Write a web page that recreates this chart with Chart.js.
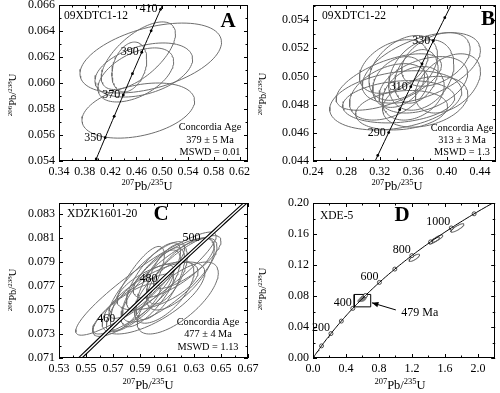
<!DOCTYPE html>
<html><head><meta charset="utf-8">
<script src="https://cdn.jsdelivr.net/npm/chart.js@4/dist/chart.umd.min.js"></script>
<style>
html,body{margin:0;padding:0;background:#fff;}
#wrap{position:relative;width:500px;height:393px;overflow:hidden;background:#fff;}
canvas{position:absolute;}
</style></head><body>
<div id="wrap">
<canvas id="cA" width="265" height="197" style="left:0;top:0"></canvas>
<canvas id="cB" width="250" height="197" style="left:250px;top:0"></canvas>
<canvas id="cC" width="265" height="196" style="left:0;top:197px"></canvas>
<canvas id="cD" width="250" height="196" style="left:250px;top:197px"></canvas>
</div>
<script>
// ---------- data ----------
// Panel A : 09XDTC1-12
const xRangeA = [0.34, 0.633], yRangeA = [0.054, 0.066];
const xTicksA = [0.34, 0.38, 0.42, 0.46, 0.50, 0.54, 0.58, 0.62];
const yTicksA = [0.054, 0.056, 0.058, 0.060, 0.062, 0.064, 0.066];
const ageMarksA = [340, 350, 360, 370, 380, 390, 400, 410];
const ageLabelsA = [350, 370, 390, 410];
// ellipses: [207/235 centre, 206/238 centre, x half-extent, y half-extent, error correlation]
const ellipsesA = [
  [0.4629, 0.05788, 0.0873, 0.00212, 0.35],
  [0.4822, 0.06192, 0.1097, 0.00269, 0.45],
  [0.4630, 0.06210, 0.0575, 0.00260, 0.65],
  [0.4714, 0.06100, 0.0757, 0.00208, 0.40],
  [0.4490, 0.06123, 0.0270, 0.00192, 0.30],
  [0.4590, 0.06062, 0.0587, 0.00208, 0.50]
];

// Panel B : 09XDTC1-22
const xRangeB = [0.24, 0.459], yRangeB = [0.044, 0.05506];
const xTicksB = [0.24, 0.28, 0.32, 0.36, 0.40, 0.44];
const yTicksB = [0.044, 0.046, 0.048, 0.050, 0.052, 0.054];
const ageMarksB = [280, 290, 300, 310, 320, 330, 340];
const ageLabelsB = [290, 310, 330];
const ellipsesB = [
  [0.3696, 0.0506, 0.0707, 0.0025, 0.5],
  [0.3390, 0.0483, 0.0790, 0.0021, 0.3],
  [0.3425, 0.0482, 0.0670, 0.0015, 0.2],
  [0.3480, 0.0506, 0.0410, 0.0023, 0.4],
  [0.3696, 0.0501, 0.0390, 0.0025, 0.3],
  [0.3307, 0.0489, 0.0470, 0.0020, 0.4],
  [0.3307, 0.0496, 0.0630, 0.0020, 0.6],
  [0.3720, 0.0494, 0.0530, 0.0020, 0.4],
  [0.3637, 0.0500, 0.0260, 0.0019, 0.3],
  [0.3743, 0.0482, 0.0510, 0.0018, 0.3],
  [0.3460, 0.0476, 0.0550, 0.0014, 0.2],
  [0.3870, 0.0512, 0.0410, 0.0019, 0.4],
  [0.3425, 0.0496, 0.0310, 0.0018, 0.3],
  [0.4014, 0.0495, 0.0390, 0.0021, 0.4],
  [0.3366, 0.0507, 0.0410, 0.0019, 0.4],
  [0.3600, 0.0488, 0.0370, 0.0019, 0.3]
];

// Panel C : XDZK1601-20
const xRangeC = [0.53, 0.67], yRangeC = [0.071, 0.08392];
const xTicksC = [0.53, 0.55, 0.57, 0.59, 0.61, 0.63, 0.65, 0.67];
const yTicksC = [0.071, 0.073, 0.075, 0.077, 0.079, 0.081, 0.083];
const ageMarksC = [];
const ageLabelsC = [460, 480, 500];
const ellipsesC = [
  [0.5944, 0.0772, 0.052, 0.0043, 0.92],
  [0.6000, 0.0760, 0.038, 0.0030, 0.70],
  [0.6120, 0.0775, 0.035, 0.0035, 0.80],
  [0.5980, 0.0768, 0.022, 0.0032, 0.75],
  [0.6050, 0.0772, 0.018, 0.0030, 0.70],
  [0.5900, 0.0760, 0.025, 0.0028, 0.80],
  [0.6150, 0.0785, 0.030, 0.0025, 0.75],
  [0.5850, 0.0755, 0.030, 0.0025, 0.85],
  [0.6200, 0.0780, 0.025, 0.0030, 0.70],
  [0.6000, 0.0778, 0.020, 0.0028, 0.75],
  [0.6080, 0.0765, 0.022, 0.0026, 0.65],
  [0.5950, 0.0775, 0.028, 0.0032, 0.85],
  [0.6250, 0.0790, 0.025, 0.0022, 0.80],
  [0.5800, 0.0750, 0.025, 0.0022, 0.80],
  [0.6100, 0.0780, 0.015, 0.0025, 0.60],
  [0.6030, 0.0770, 0.030, 0.0020, 0.60],
  [0.6180, 0.0760, 0.030, 0.0030, 0.70],
  [0.5880, 0.0768, 0.020, 0.0035, 0.80]
];

// Panel D : XDE-5
const xRangeD = [0, 2.21], yRangeD = [0, 0.20];
const xTicksD = [0.0, 0.4, 0.8, 1.2, 1.6, 2.0];
const yTicksD = [0.00, 0.04, 0.08, 0.12, 0.16, 0.20];
const ageMarksD = [0, 100, 200, 300, 400, 500, 600, 700, 800, 900, 1000, 1100];
const ageLabelsD = [200, 400, 600, 800, 1000];
const ellipsesD = [
  [1.229, 0.1293, 0.064, 0.0047, 0.80],
  [1.470, 0.1515, 0.065, 0.0045, 0.85],
  [1.505, 0.1540, 0.070, 0.0048, 0.85],
  [1.751, 0.1678, 0.080, 0.0055, 0.85]
];
const boxD = [0.50, 0.70, 0.066, 0.082];           // x0, x1, y0, y1 (zoom window)
const arrowD = [[1.005, 0.062], [0.715, 0.0712]];    // tail, head
const arrowLabelD = ['479 Ma', 1.07, 0.058];

// ---------- helpers ----------
const L238 = 1.55125e-10, L235 = 9.8485e-10;
function conc(t){ return {x: Math.exp(L235*t*1e6)-1, y: Math.exp(L238*t*1e6)-1}; }
function concCurve(t0, t1, step){ const p=[]; for(let t=t0;t<=t1+1e-9;t+=step) p.push(conc(t)); return p; }
function ellPts(e){
  const [cx,cy,sx,sy,r]=e, q=Math.sqrt(1-r*r), p=[];
  for(let i=0;i<=90;i++){ const th=i/90*2*Math.PI;
    p.push({x:cx+sx*Math.cos(th), y:cy+sy*(r*Math.cos(th)+q*Math.sin(th))}); }
  return p;
}
const SERIF = '"Liberation Serif", "Times New Roman", serif';

function rich(ctx, parts, x, y, big, small, rot){
  ctx.save();
  ctx.translate(x, y);
  if (rot) ctx.rotate(-Math.PI/2);
  let w=0;
  parts.forEach(p=>{ ctx.font=(p[1]?small:big)+'px '+SERIF; w+=ctx.measureText(p[0]).width; });
  let cx=-w/2;
  ctx.textBaseline='alphabetic'; ctx.textAlign='left'; ctx.fillStyle='#000';
  parts.forEach(p=>{ ctx.font=(p[1]?small:big)+'px '+SERIF;
    ctx.fillText(p[0], cx, p[1]? -big*0.38 : 0); cx+=ctx.measureText(p[0]).width; });
  ctx.restore();
}

const decor = {
  id:'decor',
  afterDraw(chart, args, o){
    const ctx=chart.ctx, a=chart.chartArea, xs=chart.scales.x, ys=chart.scales.y;
    ctx.save();
    // frame
    ctx.strokeStyle='#000'; ctx.lineWidth=1;
    ctx.strokeRect(Math.round(a.left)+0.5, Math.round(a.top)+0.5, Math.round(a.right-a.left)-1, Math.round(a.bottom-a.top)-1);
    // inward ticks (major + minor)
    ctx.beginPath();
    const tickSet=(scale, horiz)=>{
      const v=scale.ticks.map(t=>t.value);
      const st=v[1]-v[0];
      const all=[];
      for(let k=-2;k<v.length+2;k++){ const mv=v[0]+k*st; all.push([mv,4]); all.push([mv+st/2,2.5]); }
      all.forEach(([val,len])=>{
        if(val<scale.min-1e-12||val>scale.max+1e-12) return;
        const p=Math.round(scale.getPixelForValue(val))+0.5;
        if(horiz){ ctx.moveTo(p,a.bottom); ctx.lineTo(p,a.bottom-len); ctx.moveTo(p,a.top); ctx.lineTo(p,a.top+len); }
        else { ctx.moveTo(a.left,p); ctx.lineTo(a.left+len,p); ctx.moveTo(a.right,p); ctx.lineTo(a.right-len,p); }
      });
    };
    tickSet(xs,true); tickSet(ys,false);
    ctx.stroke();
    // arrow head (panel D)
    if(o.arrow){
      const [t,h]=o.arrow;
      const tx=xs.getPixelForValue(t[0]), ty=ys.getPixelForValue(t[1]);
      const hx=xs.getPixelForValue(h[0]), hy=ys.getPixelForValue(h[1]);
      const ang=Math.atan2(hy-ty,hx-tx);
      ctx.fillStyle='#000'; ctx.beginPath();
      ctx.moveTo(hx,hy);
      ctx.lineTo(hx-7*Math.cos(ang-0.4), hy-7*Math.sin(ang-0.4));
      ctx.lineTo(hx-7*Math.cos(ang+0.4), hy-7*Math.sin(ang+0.4));
      ctx.closePath(); ctx.fill();
    }
    // age labels on concordia
    ctx.fillStyle='#000'; ctx.font='12px '+SERIF; ctx.textAlign='right'; ctx.textBaseline='middle';
    o.ages.forEach(t=>{ const p=conc(t);
      ctx.fillText(String(t), xs.getPixelForValue(p.x)-o.lab[0], ys.getPixelForValue(p.y)+o.lab[1]); });
    // free texts
    o.texts.forEach(tx=>{
      ctx.font=(tx.bold?'bold ':'')+tx.size+'px '+SERIF; ctx.textAlign=tx.align||'left';
      ctx.textBaseline='middle';
      let x=tx.x, y=tx.y;
      if(tx.data){ x=xs.getPixelForValue(tx.data[0]); y=ys.getPixelForValue(tx.data[1]); }
      ctx.fillText(tx.t, x, y);
    });
    ctx.restore();
    // axis titles
    rich(ctx, [['207',1],['Pb',0],['/',0],['235',1],['U',0]], o.xt[0], o.xt[1], 12.5, 8.5, false);
    rich(ctx, [['206',1],['Pb',0],['/',0],['238',1],['U',0]], o.yt[0], o.yt[1], 10.5, 7, true);
  }
};

function build(p){
  const ds=[];
  if(p.double){
    ds.push({data:p.curve, showLine:true, borderColor:'#fff', borderWidth:1.4, pointRadius:0});
    ds.push({data:p.curve, showLine:true, borderColor:'#000', borderWidth:3.6, pointRadius:0});
  } else {
    ds.push({data:p.curve, showLine:true, borderColor:'#000', borderWidth:1, pointRadius:0});
  }
  if(p.marks.length) ds.push({data:p.marks.map(conc), showLine:false, pointRadius:p.markR,
    pointBackgroundColor:p.markFill, pointBorderColor:'#222', pointBorderWidth:p.markBW});
  (p.extra||[]).forEach(d=>ds.push(d));
  p.ell.forEach(e=>ds.push({data:ellPts(e), showLine:true, borderColor:p.ellColor||'#6e6e6e', borderWidth:1,
    pointRadius:0, tension:0}));
  const cv=document.getElementById(p.id);
  const W=cv.width, H=cv.height;
  const fmtX=v=>Number(v).toFixed(p.xd), fmtY=v=>Number(v).toFixed(p.yd);
  new Chart(cv, {
    type:'scatter',
    data:{datasets:ds},
    options:{
      responsive:false, animation:false, devicePixelRatio:1,
      layout:{padding:{left:0, right:W-p.right, top:p.top, bottom:0}},
      plugins:{legend:{display:false}, tooltip:{enabled:false},
        decor:{ages:p.labels, lab:p.lab, texts:p.texts, xt:p.xt, yt:p.yt, arrow:p.arrow}},
      scales:{
        x:{type:'linear', min:p.xr[0], max:p.xr[1],
          grid:{display:false, drawTicks:false}, border:{display:false},
          ticks:{font:{family:SERIF, size:12}, color:'#000', padding:4, callback:fmtX, maxRotation:0, autoSkip:false},
          afterBuildTicks:s=>{s.ticks=p.xtv.map(v=>({value:v}));},
          afterFit:s=>{s.height=H-p.bottom; s.paddingLeft=0; s.paddingRight=0;}},
        y:{type:'linear', min:p.yr[0], max:p.yr[1],
          grid:{display:false, drawTicks:false}, border:{display:false},
          ticks:{font:{family:SERIF, size:12}, color:'#000', padding:4, callback:fmtY, autoSkip:false},
          afterBuildTicks:s=>{s.ticks=p.ytv.map(v=>({value:v}));},
          afterFit:s=>{s.width=p.left; s.paddingTop=0; s.paddingBottom=0;}}
      }
    },
    plugins:[decor]
  });
}

const AN = 10.3; // annotation font size
build({id:'cA', xr:xRangeA, yr:yRangeA, xtv:xTicksA, ytv:yTicksA, xd:2, yd:3,
  left:59, right:248, top:5, bottom:161,
  curve:concCurve(320,430,2), marks:ageMarksA, markR:1.4, markFill:'#000', markBW:0,
  labels:ageLabelsA, lab:[3,0], ell:ellipsesA,
  xt:[147,190], yt:[16,95],
  texts:[{t:'09XDTC1-12', x:64, y:16, size:11.5},
         {t:'A', x:228, y:22, size:21, bold:true, align:'center'},
         {t:'Concordia Age', x:210, y:127, size:AN, align:'center'},
         {t:'379 \u00b1 5 Ma', x:210, y:140, size:AN, align:'center'},
         {t:'MSWD = 0.01', x:210, y:152, size:AN, align:'center'}]});

build({id:'cB', xr:xRangeB, yr:yRangeB, xtv:xTicksB, ytv:yTicksB, xd:2, yd:3,
  left:63, right:248, top:5, bottom:161,
  curve:concCurve(260,360,2), marks:ageMarksB, markR:1.4, markFill:'#000', markBW:0,
  labels:ageLabelsB, lab:[3,0], ell:ellipsesB,
  xt:[147,190], yt:[16,94],
  texts:[{t:'09XDTC1-22', x:72, y:16, size:11.5},
         {t:'B', x:238, y:20, size:21, bold:true, align:'center'},
         {t:'Concordia Age', x:212, y:128, size:AN, align:'center'},
         {t:'313 \u00b1 3 Ma', x:212, y:140, size:AN, align:'center'},
         {t:'MSWD = 1.3', x:212, y:152, size:AN, align:'center'}]});

build({id:'cC', xr:xRangeC, yr:yRangeC, xtv:xTicksC, ytv:yTicksC, xd:2, yd:3,
  left:59, right:248, top:6, bottom:161, double:true,
  curve:concCurve(430,520,2), marks:ageMarksC,
  labels:ageLabelsC, lab:[2,-4], ell:ellipsesC, ellColor:'#707070',
  xt:[148,192], yt:[16,93],
  texts:[{t:'XDZK1601-20', x:67, y:17, size:11.5},
         {t:'C', x:161, y:17.5, size:21, bold:true, align:'center'},
         {t:'Concordia Age', x:208, y:125, size:AN, align:'center'},
         {t:'477 \u00b1 4 Ma', x:208, y:137, size:AN, align:'center'},
         {t:'MSWD = 1.13', x:208, y:150, size:AN, align:'center'}]});

build({id:'cD', xr:xRangeD, yr:yRangeD, xtv:xTicksD, ytv:yTicksD, xd:1, yd:2,
  left:63, right:248, top:6, bottom:161,
  curve:concCurve(0,1200,10), marks:ageMarksD, markR:2, markFill:'#fff', markBW:0.8,
  labels:ageLabelsD, lab:[1,-6], ell:ellipsesD, ellColor:'#555',
  extra:[
    {data:[{x:boxD[0],y:boxD[2]},{x:boxD[1],y:boxD[2]},{x:boxD[1],y:boxD[3]},{x:boxD[0],y:boxD[3]},{x:boxD[0],y:boxD[2]}],
     showLine:true, borderColor:'#000', borderWidth:1, pointRadius:0},
    {data:arrowD.map(p=>({x:p[0],y:p[1]})), showLine:true, borderColor:'#000', borderWidth:1, pointRadius:0},
    ...ellipsesC.map(e=>({data:ellPts(e), showLine:true, borderColor:'#777', borderWidth:0.5,
      backgroundColor:'rgba(130,130,130,0.9)', fill:'shape', pointRadius:0}))
  ],
  arrow:arrowD,
  xt:[150,192], yt:[16,92],
  texts:[{t:'XDE-5', x:70, y:19, size:11.5},
         {t:'D', x:152, y:18.5, size:21, bold:true, align:'center'},
         {t:arrowLabelD[0], data:[arrowLabelD[1], arrowLabelD[2]], size:12}]});
</script>
</body></html>
